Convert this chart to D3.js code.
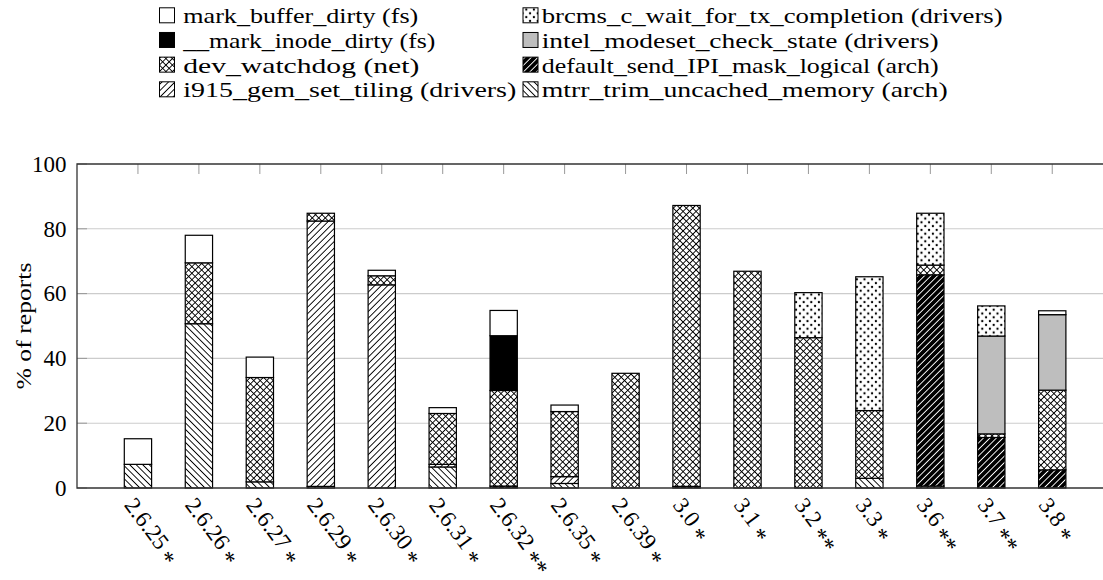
<!DOCTYPE html>
<html><head><meta charset="utf-8">
<script src="https://cdn.jsdelivr.net/npm/d3@7"></script>
<style>
body{margin:0;background:#fff;}
svg{display:block;}
</style>
</head><body>
<svg id="chart" width="1103" height="580"></svg>
<script>
// ---------- data ----------
const categories = ["2.6.25","2.6.26","2.6.27","2.6.29","2.6.30","2.6.31","2.6.32","2.6.35","2.6.39","3.0","3.1","3.2","3.3","3.6","3.7","3.8"];
const markers    = ["*","*","*","*","*","*","**","*","*","*","*","**","*","**","**","*"];
const yTicks = [0,20,40,60,80,100];

// stacked bottom -> top
const mtrr        = [7.3,50.7,1.9,0.5,0,6.5,0,1.4,0,0,0,0,3.0,0,0,0];
const i915        = [0,0,0,81.9,62.7,0.8,0,2.1,0,0,0,0,0,0.6,0,0];
const sendIPI     = [0,0,0,0,0,0,0.6,0,0,0.5,0,0,0,65.2,15.6,5.6];
const devWatchdog = [0,18.8,32.2,2.4,2.8,15.7,29.5,20.1,35.4,86.7,66.9,46.4,20.9,3.0,1.1,24.6];
const intelModeset= [0,0,0,0,0,0,0,0,0,0,0,0,0,0,30.2,23.3];
const markInode   = [0,0,0,0,0,0,16.9,0,0,0,0,0,0,0,0,0];
const brcms       = [0,0,0,0,0,0,0,0,0,0,0,13.9,41.3,16.0,9.3,0];
const markBuffer  = [7.9,8.5,6.3,0,1.7,1.8,7.8,2.0,0,0,0,0,0,0,0,1.2];

const seriesNames = ["mtrr_trim_uncached_memory (arch)","i915_gem_set_tiling (drivers)","default_send_IPI_mask_logical (arch)","dev_watchdog (net)","intel_modeset_check_state (drivers)","__mark_inode_dirty (fs)","brcms_c_wait_for_tx_completion (drivers)","mark_buffer_dirty (fs)"];
const seriesValues = [mtrr,i915,sendIPI,devWatchdog,intelModeset,markInode,brcms,markBuffer];
// legend order (row-wise, two columns) -> index into series
const legendOrder = [7,6,5,4,3,2,1,0];

// ---------- styles / layout ----------
const FONT = "'Liberation Serif', Tinos, 'Times New Roman', serif";
const fills = ["url(#nwlines)","url(#nelines)","url(#nelinesBlack)","url(#crosshatch)","#bebebe","#000","url(#dots)","#fff"];
const legendTextWidths = [235,461,252,397,236,397,333,406];

const svg = d3.select("#chart");
const M = {left:77, top:164, bottom:488, right:1113.2};

// patterns
const defs = svg.append("defs");
function linePattern(id, rot, bg, fg, both){
  const s = 4.6;
  const p = defs.append("pattern").attr("id",id).attr("patternUnits","userSpaceOnUse")
    .attr("width",s).attr("height",s).attr("patternTransform",`rotate(${rot})`);
  p.append("rect").attr("width",s).attr("height",s).attr("fill",bg);
  p.append("line").attr("x1",s/2).attr("y1",-1).attr("x2",s/2).attr("y2",s+1)
    .attr("stroke",fg).attr("stroke-width",0.95);
  if(both) p.append("line").attr("x1",-1).attr("y1",s/2).attr("x2",s+1).attr("y2",s/2)
    .attr("stroke",fg).attr("stroke-width",0.95);
}
linePattern("nwlines",-45,"#fff","#000",false);
linePattern("nelines",45,"#fff","#000",false);
linePattern("nelinesBlack",45,"#000","#fff",false);
linePattern("crosshatch",45,"#fff","#000",true);
{
  const s = 7.6;
  const p = defs.append("pattern").attr("id","dots").attr("patternUnits","userSpaceOnUse")
    .attr("width",s).attr("height",s);
  p.append("rect").attr("width",s).attr("height",s).attr("fill","#fff");
  [[s/4,s/4],[3*s/4,3*s/4]].forEach(([cx,cy])=>
    p.append("circle").attr("cx",cx).attr("cy",cy).attr("r",1.15).attr("fill","#000"));
}

// scales
const x = d3.scalePoint().domain(categories).range([M.left,M.right]).padding(1);
const y = d3.scaleLinear().domain([0,100]).range([M.bottom,M.top]);
const barW = x.step()*0.448;

// grid
svg.append("g").selectAll("line").data(yTicks.filter(t=>t>0&&t<100)).join("line")
  .attr("x1",M.left).attr("x2",M.right).attr("y1",d=>y(d)).attr("y2",d=>y(d))
  .attr("stroke","#cccccc").attr("stroke-width",1.1);
svg.append("g").selectAll("line").data(yTicks).join("line")
  .attr("x1",M.left).attr("x2",M.left+10).attr("y1",d=>y(d)).attr("y2",d=>y(d))
  .attr("stroke","#999").attr("stroke-width",1);
svg.append("g").selectAll("line").data(categories).join("line")
  .attr("x1",d=>x(d)).attr("x2",d=>x(d)).attr("y1",M.top).attr("y2",M.top+10)
  .attr("stroke","#999").attr("stroke-width",1);

// stacked bars
const table = categories.map((c,i)=>{const o={cat:c}; seriesValues.forEach((s,k)=>o["s"+k]=s[i]); return o;});
const stack = d3.stack().keys(seriesValues.map((_,k)=>"s"+k))(table);
stack.forEach((layer,k)=>{
  svg.append("g").selectAll("rect").data(layer.filter(d=>d[1]-d[0]>0)).join("rect")
    .attr("x",d=>x(d.data.cat)-barW/2).attr("width",barW)
    .attr("y",d=>y(d[1])).attr("height",d=>y(d[0])-y(d[1]))
    .attr("fill",fills[k]).attr("stroke","#000").attr("stroke-width",1.2);
});

// frame
svg.append("path").attr("d",`M${M.right},${M.top}H${M.left}V${M.bottom}H${M.right}`)
  .attr("fill","none").attr("stroke","#333").attr("stroke-width",1.3);

// y tick labels
svg.append("g").selectAll("text").data(yTicks).join("text")
  .style("font-family",FONT)
  .attr("x",66.5).attr("y",d=>y(d)).attr("dy","0.34em").attr("text-anchor","end")
  .style("font-size","23px").text(d=>d);

// y title
svg.append("text").style("font-family",FONT).attr("transform","translate(31,326) rotate(-90)")
  .attr("text-anchor","middle").style("font-size","22px").attr("textLength",127)
  .attr("lengthAdjust","spacingAndGlyphs").text("% of reports");

// x tick labels
const xl = svg.append("g").selectAll("g").data(categories).join("g")
  .attr("transform",d=>`translate(${x(d)},${M.bottom}) rotate(53)`);
const xt = xl.append("text").style("font-family",FONT).attr("x",5).attr("y",22).style("font-size","23px");
xt.append("tspan").text(d=>d);
xt.append("tspan").attr("dx",5).attr("dy",6).style("font-size","24px").text((d,i)=>markers[i]);

// legend
const lg = svg.append("g");
legendOrder.forEach((k,j)=>{
  const col = j%2, row = Math.floor(j/2);
  const bx = col===0 ? 159.5 : 523;
  const tx = col===0 ? 183.3 : 541.7;
  const base = 23.3 + row*24.67;
  lg.append("rect").attr("x",bx).attr("y",base-15.5).attr("width",15).attr("height",15)
    .attr("fill",fills[k]).attr("stroke","#000").attr("stroke-width",1);
  lg.append("text").style("font-family",FONT).attr("x",tx).attr("y",base).style("font-size","21px")
    .attr("textLength",legendTextWidths[j]).attr("lengthAdjust","spacingAndGlyphs")
    .text(seriesNames[k]);
});
</script>
</body></html>
